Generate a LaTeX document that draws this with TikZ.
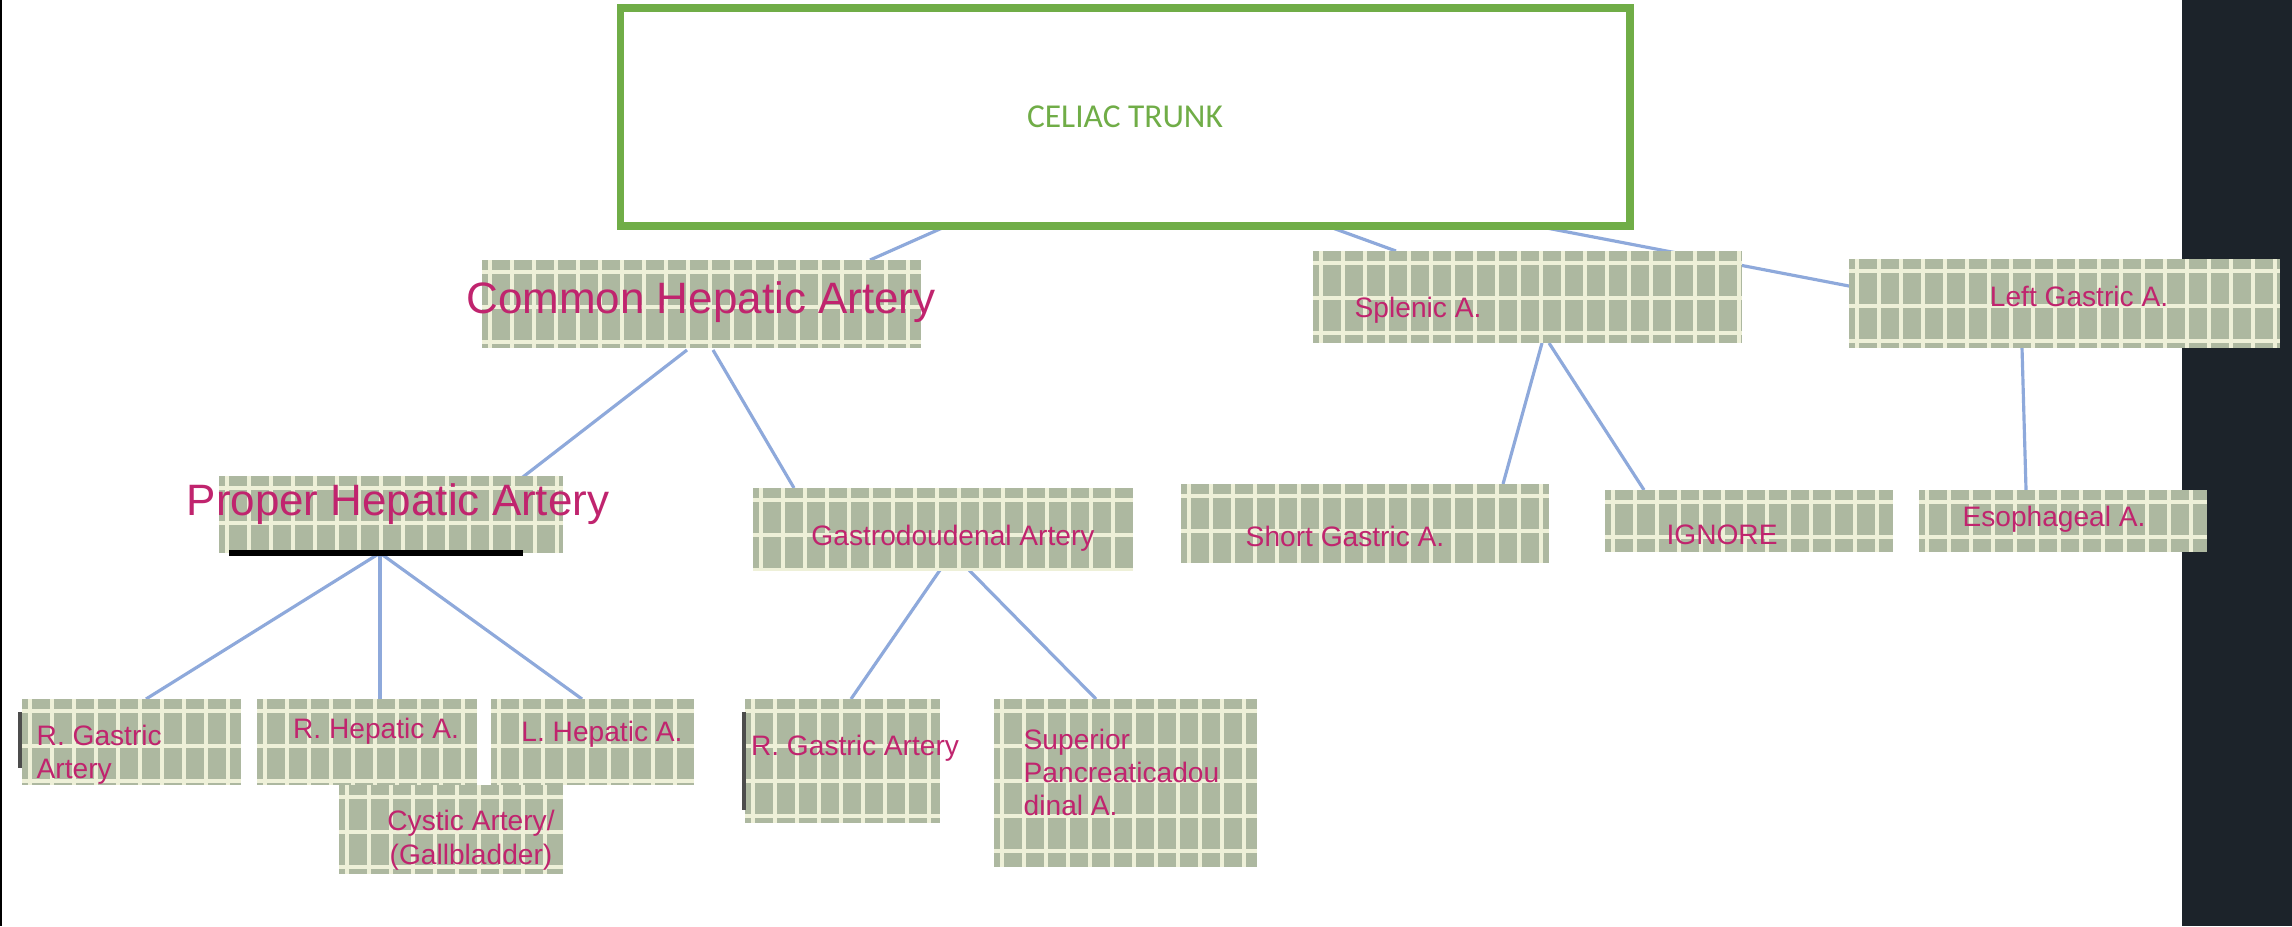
\documentclass[tikz,border=0pt]{standalone}
\usepackage{fontspec}
\setmainfont{Liberation Sans}
\newfontfamily\calib{Carlito}
\definecolor{tapeg}{HTML}{ADB8A0}
\definecolor{gridc}{HTML}{EEF0D8}
\definecolor{lbl}{HTML}{C0246E}
\definecolor{conn}{HTML}{8EA9DB}
\definecolor{darkbar}{HTML}{1C232A}
\definecolor{celg}{HTML}{70AD47}
\newcommand{\tapebox}[4]{%
  \fill[tapeg] (#1,#2) rectangle (#3,#4);
  \begin{scope}
    \clip (#1,#2) rectangle (#3,#4);
    \pgfmathsetmacro{\xa}{#1+8}
    \pgfmathsetmacro{\xb}{#1+30}
    \foreach \xx in {\xa,\xb,...,#3} \draw[gridc,line width=1.2pt] (\xx,#2) -- (\xx,#4);
    \pgfmathsetmacro{\ya}{#2+12}
    \pgfmathsetmacro{\yb}{#2+47}
    \foreach \yy in {\ya,\yb,...,#4} \draw[gridc,line width=1.2pt] (#1,\yy) -- (#3,\yy);
  \end{scope}}
\tikzset{lab/.style={text=lbl,inner sep=0pt,font=\fontsize{8}{9.5}\selectfont},
  big/.style={lab,font=\fontsize{12.5}{14}\selectfont},
  cn/.style={conn,line width=0.9pt}}
\begin{document}
\begin{tikzpicture}[x=0.01cm,y=-0.01cm]
\useasboundingbox (0,0) rectangle (2292,926);
\fill[white] (0,0) rectangle (2292,926);
\fill[darkbar] (2182,0) rectangle (2292,926);
\draw[black,line width=0.6pt] (1,0) -- (1,926);
% connectors
\coordinate (ct1) at (1118,150); \coordinate (ct2) at (1140,150);
\coordinate (cha) at (870,260); \coordinate (spa) at (1396,251); \coordinate (lga) at (1849,286);
\draw[cn] (ct1) -- (cha); \draw[cn] (ct1) -- (spa); \draw[cn] (ct2) -- (lga);
\coordinate (chb1) at (687,350); \coordinate (chb2) at (713,350);
\coordinate (pha) at (519,480); \coordinate (gda) at (794,488);
\draw[cn] (chb1) -- (pha); \draw[cn] (chb2) -- (gda);
\coordinate (phb) at (380,553);
\coordinate (rga) at (146,699); \coordinate (rha) at (380,699); \coordinate (lha) at (582,699);
\draw[cn] (phb) -- (rga); \draw[cn] (phb) -- (rha); \draw[cn] (phb) -- (lha);
\coordinate (gdb1) at (940,570); \coordinate (gdb2) at (969,570);
\coordinate (rg2a) at (851,699); \coordinate (spda) at (1096,699);
\draw[cn] (gdb1) -- (rg2a); \draw[cn] (gdb2) -- (spda);
\coordinate (spb1) at (1542,343); \coordinate (spb2) at (1549,343);
\coordinate (sga) at (1503,484); \coordinate (iga) at (1644,490);
\draw[cn] (spb1) -- (sga); \draw[cn] (spb2) -- (iga);
\coordinate (lgb) at (2022,348); \coordinate (esa) at (2026,490);
\draw[cn] (lgb) -- (esa);
% boxes
\node[draw=celg,line width=2.2pt,fill=white,minimum width=287,minimum height=62,inner sep=0pt,text=celg,font=\calib\fontsize{9.5}{11}\selectfont] (celiac) at (1125,117) {CELIAC TRUNK};
\tapebox{482}{260}{921}{348}
\node[big] (chat) at (701,302) {Common Hepatic Artery};
\tapebox{1313}{251}{1742}{343}
\node[lab,anchor=west] (splt) at (1354,310) {Splenic A.};
\tapebox{1849}{259}{2280}{348}
\node[lab] (lgt) at (2079,296) {Left Gastric A.};
\tapebox{219}{476}{563}{553}
\draw[black,line width=1.5pt] (229,553) -- (523,553);
\node[big] (pht) at (398,504) {Proper Hepatic Artery};
\tapebox{753}{488}{1133}{570}
\node[lab] (gdt) at (953,538) {Gastrodoudenal Artery};
\tapebox{1181}{484}{1549}{563}
\node[lab] (sgt) at (1345,536) {Short Gastric A.};
\tapebox{1605}{490}{1893}{552}
\node[lab] (igt) at (1722,535) {IGNORE};
\tapebox{1919}{490}{2207}{552}
\node[lab] (est) at (2054,519) {Esophageal A.};
\tapebox{22}{699}{241}{785}
\draw[black!70,line width=1pt] (20,712) -- (20,768);
\node[lab,anchor=north west,align=left] (rgt) at (36,724) {R. Gastric\\Artery};
\tapebox{257}{699}{477}{785}
\node[lab] (rht) at (376,731) {R. Hepatic A.};
\tapebox{491}{699}{694}{785}
\node[lab] (lht) at (602,734) {L. Hepatic A.};
\tapebox{339}{785}{563}{874}
\node[lab,align=center] (cyt) at (471,840) {Cystic Artery/\\(Gallbladder)};
\tapebox{745}{699}{940}{823}
\draw[black!70,line width=1pt] (744,712) -- (744,810);
\node[lab] (rg2t) at (855,748) {R. Gastric Artery};
\tapebox{994}{699}{1257}{867}
\node[lab,anchor=north west,align=left] (spdt) at (1023,728) {Superior\\Pancreaticadou\\dinal A.};
\end{tikzpicture}
\end{document}
